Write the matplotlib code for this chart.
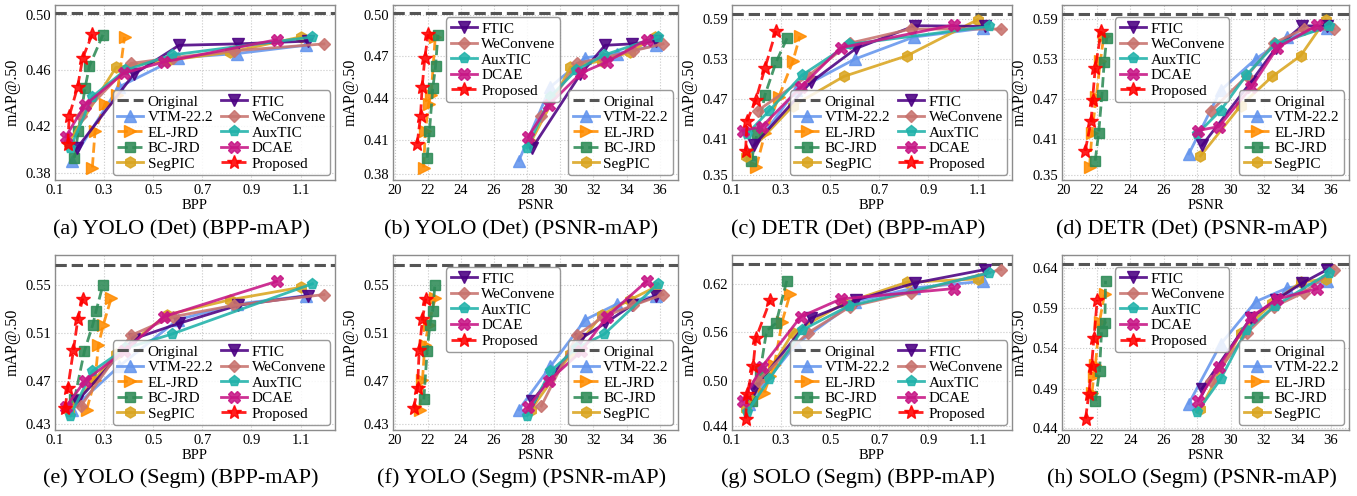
import numpy as np
import matplotlib
matplotlib.use("Agg")
import matplotlib.pyplot as plt

plt.rcParams['font.family'] = ['Liberation Serif', 'DejaVu Serif']

# ---- rates of the generic codecs (same bitstreams for every task) ----
codec_bpp = {
    "VTM-22.2": [0.168, 0.36, 0.60, 0.84, 1.12],
    "SegPIC": [0.155, 0.348, 0.555, 0.812, 1.10],
    "FTIC": [0.19, 0.42, 0.605, 0.845, 1.13],
    "WeConvene": [0.205, 0.41, 0.581, 0.828, 1.195],
    "AuxTIC": [0.162, 0.252, 0.385, 0.575, 1.148],
    "DCAE": [0.143, 0.222, 0.38, 0.543, 1.002],
}
codec_psnr = {
    "VTM-22.2": [27.5, 29.4, 31.5, 33.4, 35.8],
    "SegPIC": [28.2, 30.6, 32.5, 34.2, 35.7],
    "FTIC": [28.3, 31.2, 32.7, 34.3, 35.8],
    "WeConvene": [28.85, 31.0, 32.6, 34.4, 36.2],
    "AuxTIC": [28.0, 29.4, 30.95, 32.65, 35.9],
    "DCAE": [28.05, 29.3, 31.25, 32.8, 35.2],
}

# ---- YOLO (Det) ----
yolo_det_bpp = {
    "EL-JRD": [0.252, 0.263, 0.304, 0.352, 0.383],
    "BC-JRD": [0.179, 0.195, 0.222, 0.240, 0.295],
    "Proposed": [0.152, 0.158, 0.192, 0.213, 0.252],
}
yolo_det_psnr = {
    "EL-JRD": [21.75, 21.85, 22.05, 22.2, 22.45],
    "BC-JRD": [21.96, 22.1, 22.3, 22.47, 22.61],
    "Proposed": [21.36, 21.56, 21.66, 21.82, 22.02],
}
yolo_det_map = {
    "VTM-22.2": [0.395, 0.448, 0.469, 0.472, 0.478],
    "EL-JRD": [0.390, 0.416, 0.436, 0.442, 0.484],
    "BC-JRD": [0.397, 0.416, 0.447, 0.463, 0.4855],
    "SegPIC": [0.408, 0.462, 0.467, 0.473, 0.484],
    "FTIC": [0.404, 0.457, 0.478, 0.479, 0.481],
    "WeConvene": [0.427, 0.465, 0.469, 0.474, 0.479],
    "AuxTIC": [0.404, 0.441, 0.460, 0.471, 0.484],
    "DCAE": [0.412, 0.435, 0.458, 0.466, 0.482],
    "Proposed": [0.407, 0.427, 0.448, 0.469, 0.486],
}

# ---- DETR (Det) ----
detr_bpp = {
    "EL-JRD": [0.199, 0.235, 0.29, 0.348, 0.376],
    "BC-JRD": [0.179, 0.203, 0.234, 0.279, 0.325],
    "Proposed": [0.155, 0.162, 0.197, 0.234, 0.279],
}
detr_psnr = {
    "EL-JRD": [21.55, 21.7, 21.95, 22.2, 22.4],
    "BC-JRD": [21.89, 22.1, 22.29, 22.43, 22.58],
    "Proposed": [21.29, 21.65, 21.73, 21.89, 22.25],
}
detr_map = {
    "VTM-22.2": [0.388, 0.483, 0.530, 0.563, 0.576],
    "EL-JRD": [0.369, 0.420, 0.473, 0.527, 0.564],
    "BC-JRD": [0.378, 0.420, 0.476, 0.525, 0.562],
    "SegPIC": [0.385, 0.460, 0.504, 0.535, 0.589],
    "FTIC": [0.401, 0.495, 0.546, 0.580, 0.579],
    "WeConvene": [0.453, 0.505, 0.554, 0.575, 0.575],
    "AuxTIC": [0.418, 0.453, 0.506, 0.552, 0.579],
    "DCAE": [0.423, 0.429, 0.488, 0.547, 0.581],
    "Proposed": [0.3925, 0.438, 0.469, 0.5165, 0.572],
}

# ---- YOLO (Segm) ----
yolo_seg_bpp = {
    "EL-JRD": [0.229, 0.263, 0.277, 0.297, 0.329],
    "BC-JRD": [0.179, 0.22, 0.254, 0.267, 0.295],
    "Proposed": [0.141, 0.152, 0.175, 0.193, 0.213],
}
yolo_seg_psnr = {
    "EL-JRD": [21.5, 21.68, 21.82, 22.05, 22.45],
    "BC-JRD": [21.76, 21.96, 22.13, 22.29, 22.43],
    "Proposed": [21.15, 21.38, 21.48, 21.68, 21.88],
}
yolo_seg_map = {
    "VTM-22.2": [0.446, 0.482, 0.521, 0.534, 0.541],
    "EL-JRD": [0.446, 0.471, 0.500, 0.517, 0.539],
    "BC-JRD": [0.4545, 0.495, 0.517, 0.528, 0.550],
    "SegPIC": [0.4455, 0.492, 0.525, 0.5376, 0.548],
    "FTIC": [0.453, 0.505, 0.518, 0.533, 0.541],
    "WeConvene": [0.449, 0.508, 0.5235, 0.533, 0.542],
    "AuxTIC": [0.441, 0.478, 0.497, 0.509, 0.551],
    "DCAE": [0.448, 0.470, 0.4945, 0.5235, 0.553],
    "Proposed": [0.447, 0.464, 0.4954, 0.5216, 0.5387],
}

# ---- SOLO (Segm) ----
solo_bpp = {
    "EL-JRD": [0.231, 0.255, 0.272, 0.304, 0.337],
    "BC-JRD": [0.18, 0.215, 0.241, 0.279, 0.323],
    "Proposed": [0.155, 0.162, 0.186, 0.197, 0.256],
}
solo_psnr = {
    "EL-JRD": [21.7, 21.8, 21.9, 22.15, 22.45],
    "BC-JRD": [21.9, 22.15, 22.27, 22.47, 22.51],
    "Proposed": [21.31, 21.51, 21.67, 21.81, 22.01],
}
solo_map = {
    "VTM-22.2": [0.4713, 0.545, 0.598, 0.615, 0.6233],
    "EL-JRD": [0.485, 0.505, 0.519, 0.573, 0.608],
    "BC-JRD": [0.4745, 0.512, 0.562, 0.571, 0.624],
    "SegPIC": [0.4651, 0.5594, 0.5959, 0.6221, 0.6262],
    "FTIC": [0.490, 0.5772, 0.600, 0.6212, 0.6379],
    "WeConvene": [0.500, 0.5594, 0.5918, 0.6093, 0.6379],
    "AuxTIC": [0.4609, 0.5016, 0.5627, 0.5926, 0.6337],
    "DCAE": [0.4747, 0.517, 0.5793, 0.6013, 0.6142],
    "Proposed": [0.4526, 0.4838, 0.5179, 0.5523, 0.6001],
}

original_map = {"YOLO (Det)": 0.501, "DETR (Det)": 0.598,
                "YOLO (Segm)": 0.567, "SOLO (Segm)": 0.645}

methods = ["VTM-22.2", "EL-JRD", "BC-JRD", "SegPIC",
           "FTIC", "WeConvene", "AuxTIC", "DCAE", "Proposed"]

styles = {
    "VTM-22.2": dict(color='#6495ED', marker='^', ls='-', ms=8),
    "EL-JRD": dict(color='#FF8C00', marker='>', ls='--', ms=8),
    "BC-JRD": dict(color='#2E8B57', marker='s', ls='--', ms=7.5),
    "SegPIC": dict(color='#DAA520', marker='h', ls='-', ms=8),
    "FTIC": dict(color='#4B0082', marker='v', ls='-', ms=8),
    "WeConvene": dict(color='#C8736E', marker='D', ls='-', ms=6.5),
    "AuxTIC": dict(color='#20B2AA', marker='p', ls='-', ms=8),
    "DCAE": dict(color='#C71585', marker='X', ls='-', ms=8.5),
    "Proposed": dict(color='red', marker='*', ls='--', ms=10.5),
}

# panel layout in pixels (x0, x1, y0, y1) of a 1357x496 figure
W, H = 1357, 496
cols = [(55, 335), (393, 678), (732, 1012), (1062, 1349)]
rows = [(5, 180), (255, 430)]
caption_y = [230, 478]

tasks = [
    ("YOLO (Det)", yolo_det_bpp, yolo_det_psnr, yolo_det_map,
     (0.381, 0.507), [0.386, 0.42, 0.46, 0.50], [0.385, 0.41, 0.44, 0.47, 0.50]),
    ("DETR (Det)", detr_bpp, detr_psnr, detr_map,
     (0.349, 0.611), [0.357, 0.41, 0.47, 0.53, 0.59], [0.357, 0.41, 0.47, 0.53, 0.59]),
    ("YOLO (Segm)", yolo_seg_bpp, yolo_seg_psnr, yolo_seg_map,
     (0.429, 0.575), [0.434, 0.47, 0.51, 0.55], [0.434, 0.47, 0.51, 0.55]),
    ("SOLO (Segm)", solo_bpp, solo_psnr, solo_map,
     (0.4385, 0.656), [0.4435, 0.50, 0.56, 0.62], [0.441, 0.49, 0.54, 0.59, 0.64]),
]


def trunc_label(v):
    return '%.2f' % (np.floor(v * 100 + 1e-6) / 100)


def draw(ax, task, xs_task, mapv, xkind, ylim, yticks):
    if xkind == 'BPP':
        xlim = (0.1, 1.24)
        xticks = [0.1, 0.3, 0.5, 0.7, 0.9, 1.1]
        shared = codec_bpp
    else:
        xlim = (19.9, 37.1)
        xticks = list(range(20, 37, 2))
        shared = codec_psnr
    ax.plot(xlim, [original_map[task]] * 2, ls='--', color='#555555', lw=2.2,
            label='Original', zorder=3)
    for m in methods:
        xv = xs_task[m] if m in xs_task else shared[m]
        st = styles[m]
        ax.plot(xv, mapv[m], ls=st['ls'], color=st['color'], marker=st['marker'],
                ms=st['ms'], lw=2, alpha=0.88, label=m, zorder=4)
    ax.set_xlim(xlim)
    ax.set_ylim(ylim)
    ax.set_xticks(xticks)
    ax.set_xticklabels([('%g' % t) for t in xticks])
    ax.set_yticks(yticks)
    ax.set_yticklabels([trunc_label(t) for t in yticks])
    ax.tick_params(length=0, pad=3, labelsize=10.5)
    ax.grid(True, ls=':', color='#c8c8c8', lw=0.8)
    for s in ax.spines.values():
        s.set_color('#8c8c8c')
        s.set_linewidth(1.0)
    ax.set_xlabel(xkind, fontsize=10.5, labelpad=1)
    ax.set_ylabel('mAP@.50', fontsize=11.5, labelpad=3)

    handles, labels = ax.get_legend_handles_labels()
    leg_kw = dict(fontsize=11, handlelength=1.7, handletextpad=0.3,
                  labelspacing=0.12, borderpad=0.3, fancybox=True,
                  edgecolor='#888888', framealpha=0.85, borderaxespad=0.3)
    if xkind == 'BPP':
        ax.legend(handles, labels, ncol=2, loc='lower right', columnspacing=0.5,
                  **leg_kw)
    else:
        leg1 = ax.legend(handles[5:], labels[5:], loc='upper left',
                         bbox_to_anchor=(0.17, 0.955), **leg_kw)
        ax.add_artist(leg1)
        ax.legend(handles[:5], labels[:5], loc='lower right', **leg_kw)


fig = plt.figure(figsize=(W / 100, H / 100), dpi=100)
letters = 'abcdefgh'
k = 0
for r, (y0, y1) in enumerate(rows):
    for c, (x0, x1) in enumerate(cols):
        task, tb, tp, tm, ylim, yt_bpp, yt_psnr = tasks[r * 2 + c // 2]
        xkind = 'BPP' if c % 2 == 0 else 'PSNR'
        ax = fig.add_axes([x0 / W, 1 - y1 / H, (x1 - x0) / W, (y1 - y0) / H])
        if xkind == 'BPP':
            draw(ax, task, tb, tm, xkind, ylim, yt_bpp)
        else:
            draw(ax, task, tp, tm, xkind, ylim, yt_psnr)
        fig.text(((x0 + x1) / 2 - 14) / W, 1 - caption_y[r] / H,
                 '(%s) %s (%s-mAP)' % (letters[k], task, xkind),
                 ha='center', va='center', fontsize=16)
        k += 1

fig.savefig('out.png', dpi=100)
